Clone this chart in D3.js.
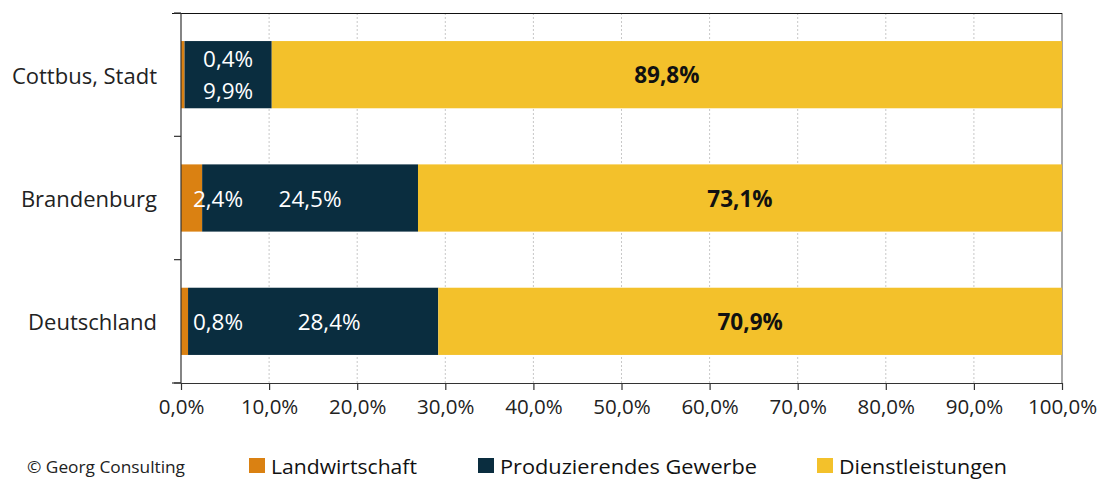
<!DOCTYPE html>
<html><head><meta charset="utf-8">
<script src="https://cdn.jsdelivr.net/npm/d3@7"></script>
<style>body{margin:0;background:#fff}svg{display:block}text{font-family:"Open Sans","Noto Sans",sans-serif}</style>
</head><body><svg id="c" width="1109" height="479"></svg>
<script>
const categories = ["Cottbus, Stadt", "Brandenburg", "Deutschland"];
const seriesNames = ["Landwirtschaft", "Produzierendes Gewerbe", "Dienstleistungen"];
const landwirtschaft = [0.4, 2.4, 0.8];
const produzierend = [9.9, 24.5, 28.4];
const dienstleistungen = [89.8, 73.1, 70.9];
const tickValues = [0,10,20,30,40,50,60,70,80,90,100];
const colors = ["#DA8112", "#0A2D3F", "#F3C12B"];

const svg = d3.select("#c");
const L = 181, R = 1062, T = 13, B = 383;
const x = d3.scaleLinear().domain([0,100]).range([L,R]);
const y = d3.scaleBand().domain(categories).range([T,B]).paddingInner(0.455).paddingOuter(0.2275);
const fmt = v => v.toFixed(1).replace(".", ",") + "%";

// gridlines
svg.append("g").selectAll("line").data(tickValues.slice(1)).join("line")
  .attr("x1", d=>x(d)).attr("x2", d=>x(d)).attr("y1", T).attr("y2", B)
  .attr("stroke", d=> d===100 ? "#888" : "#c8c8c8").attr("stroke-width", d=> d===100?1.5:1)
  .attr("stroke-dasharray", d=> d===100 ? null : "2,2");
// top border
svg.append("line").attr("x1",172).attr("x2",R).attr("y1",T+0.5).attr("y2",T+0.5).attr("stroke","#111").attr("stroke-width",1.2);

const data = categories.map((c,i)=>({cat:c, vals:[landwirtschaft[i], produzierend[i], dienstleistungen[i]]}));
const stackData = data.map(d=>{let s=0; return {cat:d.cat, segs:d.vals.map((v,k)=>{const o={k, v, x0:s, x1:s+v}; s+=v; return o;})};});

const rows = svg.append("g").selectAll("g").data(stackData).join("g");
rows.selectAll("rect").data(d=>d.segs.map(s=>({...s, cat:d.cat}))).join("rect")
  .attr("x", d=>x(d.x0)).attr("width", d=>Math.max(0,x(Math.min(d.x1,100))-x(d.x0)))
  .attr("y", d=>y(d.cat)).attr("height", y.bandwidth())
  .attr("fill", d=>colors[d.k]);

// labels
stackData.forEach((d,i)=>{
  const cy = y(d.cat) + y.bandwidth()/2;
  const s = d.segs;
  const g = svg.append("g").attr("font-size", 22.5);
  if (i === 0) {
    const cx = (x(s[1].x0)+x(s[1].x1))/2;
    g.append("text").attr("x", cx).attr("y", cy-16).attr("text-anchor","middle").attr("dominant-baseline","central").attr("fill","#fff").text(fmt(s[0].v));
    g.append("text").attr("x", cx).attr("y", cy+16).attr("text-anchor","middle").attr("dominant-baseline","central").attr("fill","#fff").text(fmt(s[1].v));
  } else {
    g.append("text").attr("x", x(0)+37).attr("y", cy).attr("text-anchor","middle").attr("dominant-baseline","central").attr("fill","#fff").text(fmt(s[0].v));
    const cx = i===1 ? (x(s[1].x0)+x(s[1].x1))/2 : (x(s[1].x0)+x(s[1].x1))/2 + 16;
    g.append("text").attr("x", cx).attr("y", cy).attr("text-anchor","middle").attr("dominant-baseline","central").attr("fill","#fff").text(fmt(s[1].v));
  }
  g.append("text").attr("x", (x(s[2].x0)+x(Math.min(s[2].x1,100)))/2).attr("y", cy).attr("text-anchor","middle").attr("dominant-baseline","central")
    .attr("fill","#111").attr("font-weight","bold").text(fmt(s[2].v));
});

// left axis
const yAxisG = svg.append("g");
yAxisG.append("line").attr("x1",L).attr("x2",L).attr("y1",T).attr("y2",B).attr("stroke","#333").attr("stroke-width",1.2);
const yTicks = [T, T+(B-T)/3, T+2*(B-T)/3, B];
yAxisG.selectAll("line.t").data(yTicks).join("line").attr("class","t")
  .attr("x1",174).attr("x2",L).attr("y1",d=>d).attr("y2",d=>d).attr("stroke","#333").attr("stroke-width",1.2);
yAxisG.selectAll("text").data(categories).join("text")
  .attr("x",157).attr("y",d=>y(d)+y.bandwidth()/2).attr("text-anchor","end").attr("dominant-baseline","central")
  .attr("font-size",22).attr("fill","#222").text(d=>d);

// bottom axis
const xAxis = d3.axisBottom(x).tickValues(tickValues).tickFormat(fmt).tickSize(7).tickSizeOuter(0);
const xg = svg.append("g").attr("transform",`translate(0,${B})`).call(xAxis);
xg.select(".domain").attr("stroke","#333").attr("stroke-width",1.2);
xg.selectAll(".tick line").attr("stroke","#333").attr("stroke-width",1.2);
xg.selectAll(".tick text").attr("font-size",20.5).attr("fill","#222").attr("font-family",'"Open Sans","Noto Sans",sans-serif').attr("dy","1.0em");
svg.append("line").attr("x1",172).attr("x2",L).attr("y1",B).attr("y2",B).attr("stroke","#333").attr("stroke-width",1.2);

// footer
svg.append("text").attr("x",27).attr("y",473).attr("font-size",16).attr("fill","#222")
  .attr("textLength",158).attr("lengthAdjust","spacingAndGlyphs").text("© Georg Consulting");
const legX = [249, 478, 817];
const legW = [146, 257, 168];
const leg = svg.append("g").selectAll("g").data(seriesNames).join("g").attr("transform",(d,i)=>`translate(${legX[i]},458)`);
leg.append("rect").attr("width",16).attr("height",15).attr("fill",(d,i)=>colors[i]);
leg.append("text").attr("x",22).attr("y",7.5).attr("dominant-baseline","central").attr("font-size",20.5).attr("fill","#111")
  .attr("textLength",(d,i)=>legW[i]).attr("lengthAdjust","spacingAndGlyphs").text(d=>d);
</script></body></html>
